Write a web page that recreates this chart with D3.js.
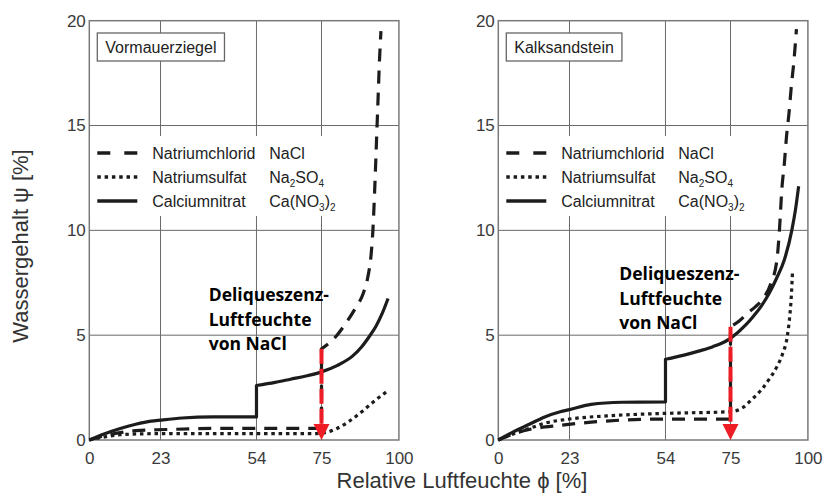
<!DOCTYPE html>
<html>
<head>
<meta charset="utf-8">
<script src="https://cdn.jsdelivr.net/npm/d3@7"></script>
<style>
  body { margin: 0; background: #fff; }
  svg { display: block; }
</style>
</head>
<body>
<svg width="824" height="504"></svg>
<script>
// values (x = relative humidity %, y = water content %)
var humidityTicks = [0, 23, 54, 75, 100];
var contentTicks = [0, 5, 10, 15, 20];
var panelNames = ["Vormauerziegel", "Kalksandstein"];
var saltNames = ["Natriumchlorid", "Natriumsulfat", "Calciumnitrat"];
var saltFormulas = [
  [["NaCl", 0]],
  [["Na", 0], ["2", 1], ["SO", 0], ["4", 1]],
  [["Ca(NO", 0], ["3", 1], [")", 0], ["2", 1]]
];
var noteLines = ["Deliqueszenz-", "Luftfeuchte", "von NaCl"];
var deliquescenceRH = 75;
var arrowTop = [4.35, 5.4];

// Vormauerziegel
var ziegelNaClLow = [[0, 0], [5, 0.2], [10, 0.35], [15, 0.45], [25, 0.5], [40, 0.55], [60, 0.55], [75, 0.55]];
var ziegelNaClHigh = [[75, 4.35], [77.3, 4.6], [80, 5.0], [83, 5.6], [86, 6.3], [88.5, 7.0], [90, 7.8], [91, 8.8],
                      [91.6, 10], [92.2, 12], [92.7, 14], [93.2, 16], [93.7, 18], [94.2, 19.5]];
var ziegelNa2SO4 = [[0, 0], [5, 0.15], [10, 0.25], [20, 0.3], [40, 0.3], [60, 0.3], [72, 0.3], [76, 0.35],
                    [80, 0.55], [84, 0.9], [88, 1.35], [92, 1.85], [96, 2.3]];
var ziegelCaLow = [[0, 0], [5, 0.3], [10, 0.55], [15, 0.75], [20, 0.9], [23, 0.95], [30, 1.05], [40, 1.1], [54, 1.1]];
var ziegelCaHigh = [[54, 2.6], [60, 2.75], [65, 2.9], [70, 3.05], [75, 3.25], [80, 3.55], [85, 4.0], [88, 4.45],
                    [90.5, 4.95], [92.5, 5.4], [94.5, 6.0], [96.5, 6.75]];

// Kalksandstein
var kalkNaClLow = [[0, 0], [5, 0.3], [10, 0.5], [20, 0.7], [30, 0.85], [40, 0.95], [54, 1.0], [75, 1.0]];
var kalkNaClHigh = [[75, 5.4], [78, 5.7], [80.5, 6.05], [83, 6.35], [85.3, 6.7], [88, 7.45], [90, 8.6], [90.8, 10],
                    [91.6, 12], [92.4, 13.2], [93.1, 14.5], [93.9, 15.6], [94.6, 16.8], [95.5, 18.1], [96.3, 19.6]];
var kalkNa2SO4 = [[0, 0], [5, 0.3], [10, 0.55], [15, 0.8], [23, 1.0], [35, 1.15], [54, 1.27], [75, 1.35], [79, 1.55],
                  [82, 1.95], [85, 2.4], [87.5, 2.9], [90, 3.5], [91.8, 4.1], [93.4, 5.0], [94.2, 6.0], [94.7, 7.0], [95, 7.95]];
var kalkCaLow = [[0, 0], [5, 0.4], [10, 0.75], [15, 1.1], [20, 1.35], [23, 1.45], [30, 1.7], [40, 1.8], [54, 1.82]];
var kalkCaHigh = [[54, 3.85], [60, 4.05], [65, 4.25], [69.3, 4.45], [75, 4.85], [80, 5.5], [82.2, 5.87], [85, 6.4],
                  [87.5, 7.0], [90, 7.75], [92.4, 8.6], [94.8, 10], [96, 11], [97, 12.1]];

var series = [
  [[ziegelNaClLow, ziegelNaClHigh], [ziegelNa2SO4], [ziegelCaLow, ziegelCaHigh]],
  [[kalkNaClLow, kalkNaClHigh], [kalkNa2SO4], [kalkCaLow, kalkCaHigh]]
];

// layout
var panelLeft = [89.3, 498.3];
var panelWidth = 309.6;
var plotTop = 20.7, plotBottom = 440;
var dashes = ["13,9", "3.5,3.8", null];
var ink = "#1c1c1c";
var axisFont = "'Liberation Sans', Arial, sans-serif";

var svg = d3.select("svg");

var y = d3.scaleLinear().domain([0, 20]).range([plotBottom, plotTop]);

function buildPath(segments, x) {
  var line = d3.line()
               .x(function(d) { return x(d[0]); })
               .y(function(d) { return y(d[1]); })
               .curve(d3.curveMonotoneX);
  return segments.map(function(s, i) {
    var p = line(s);
    return i ? "L" + p.slice(1) : p;
  }).join("");
}

panelLeft.forEach(function(left, pi) {
  var x = d3.scaleLinear().domain([0, 100]).range([left, left + panelWidth]);
  var g = svg.append("g");

  // grid
  g.selectAll(".vgrid").data(humidityTicks.slice(1, -1)).enter()
   .append("line")
   .attr("x1", function(d) { return x(d); }).attr("x2", function(d) { return x(d); })
   .attr("y1", plotTop).attr("y2", plotBottom)
   .attr("stroke", "#6a6a6a").attr("stroke-width", 1);
  g.selectAll(".hgrid").data(contentTicks.slice(1, -1)).enter()
   .append("line")
   .attr("x1", x(0)).attr("x2", x(100))
   .attr("y1", function(d) { return y(d); }).attr("y2", function(d) { return y(d); })
   .attr("stroke", "#6a6a6a").attr("stroke-width", 1);

  // axes labels (no tick lines)
  var xAxis = g.append("g")
               .attr("transform", "translate(0," + plotBottom + ")")
               .call(d3.axisBottom(x).tickValues(humidityTicks).tickSize(0).tickPadding(11.5).tickFormat(d3.format("d")));
  var yAxis = g.append("g")
               .attr("transform", "translate(" + left + ",0)")
               .call(d3.axisLeft(y).tickValues(contentTicks).tickSize(0).tickPadding(3.5).tickFormat(d3.format("d")));
  [xAxis, yAxis].forEach(function(a) {
    a.select(".domain").remove();
    a.selectAll("text").attr("font-family", axisFont).attr("font-size", 17).attr("fill", "#3a3a3a");
  });

  // frame
  g.append("rect")
   .attr("x", x(0)).attr("y", plotTop)
   .attr("width", x(100) - x(0)).attr("height", plotBottom - plotTop)
   .attr("fill", "none").attr("stroke", "#7a7a7a").attr("stroke-width", 1.5);

  // legend background hides the grid
  g.append("rect")
   .attr("x", x(0) + 1).attr("y", 136)
   .attr("width", 256).attr("height", 80)
   .attr("fill", "#fff");

  var legend = g.append("g").attr("font-family", axisFont).attr("font-size", 16).attr("fill", "#222");
  saltNames.forEach(function(name, si) {
    var ly = 153 + si * 24;
    legend.append("line")
          .attr("x1", x(0) + 8).attr("x2", x(0) + 48)
          .attr("y1", ly).attr("y2", ly)
          .attr("stroke", ink).attr("stroke-width", 3.5)
          .attr("stroke-dasharray", si === 0 ? "13,14" : dashes[si]);
    legend.append("text")
          .attr("x", x(0) + 63).attr("y", ly + 5.8)
          .text(name);
    var f = legend.append("text")
                  .attr("x", x(0) + 180).attr("y", ly + 5.8);
    var prevSub = 0;
    saltFormulas[si].forEach(function(part) {
      f.append("tspan")
       .attr("font-size", part[1] ? 10 : 16)
       .attr("dy", part[1] - prevSub ? (part[1] ? 4 : -4) : 0)
       .text(part[0]);
      prevSub = part[1];
    });
  });

  // panel name box
  var nameBox = g.append("rect")
                 .attr("fill", "#fff").attr("stroke", "#666").attr("stroke-width", 1.3);
  var nameText = g.append("text")
                  .attr("x", x(0) + 16).attr("y", 52.5)
                  .attr("font-family", axisFont).attr("font-size", 16).attr("fill", "#222")
                  .text(panelNames[pi]);
  var bb = nameText.node().getBBox();
  nameBox.attr("x", bb.x - 8).attr("y", 33)
         .attr("width", bb.width + 16).attr("height", 28);

  // curves
  series[pi].forEach(function(segs, si) {
    g.append("path")
     .attr("d", buildPath(segs, x))
     .attr("fill", "none")
     .attr("stroke", ink)
     .attr("stroke-width", 3.2)
     .attr("stroke-linejoin", "round")
     .attr("stroke-dasharray", dashes[si]);
  });

  // deliquescence arrow
  var ax = x(deliquescenceRH);
  g.append("line")
   .attr("x1", ax).attr("x2", ax)
   .attr("y1", y(arrowTop[pi])).attr("y2", y(0) - 14)
   .attr("stroke", "#ee1c25").attr("stroke-width", 4)
   .attr("stroke-dasharray", "15,5");
  g.append("path")
   .attr("d", "M" + (ax - 8) + "," + (y(0) - 16) + "L" + (ax + 8) + "," + (y(0) - 16) + "L" + ax + "," + y(0) + "Z")
   .attr("fill", "#ee1c25");

  // annotation
  var noteX = [208.7, 619.3][pi];
  var noteY = [301, 280][pi];
  g.append("g").selectAll("text").data(noteLines).enter()
   .append("text")
   .attr("x", noteX)
   .attr("y", function(d, i) { return noteY + i * 24.5; })
   .attr("font-family", "'Open Sans', sans-serif")
   .attr("font-weight", "bold")
   .attr("font-size", 17.5)
   .attr("fill", "#000")
   .text(function(d) { return d; });
});

// axis titles
svg.append("text")
   .attr("x", 462).attr("y", 488)
   .attr("text-anchor", "middle")
   .attr("font-family", axisFont).attr("font-size", 22).attr("fill", "#333")
   .text("Relative Luftfeuchte  \u03d5 [%]");

svg.append("text")
   .attr("transform", "translate(28,246) rotate(-90)")
   .attr("text-anchor", "middle")
   .attr("font-family", axisFont).attr("font-size", 22).attr("fill", "#333")
   .text("Wassergehalt  \u03c8 [%]");
</script>
</body>
</html>
